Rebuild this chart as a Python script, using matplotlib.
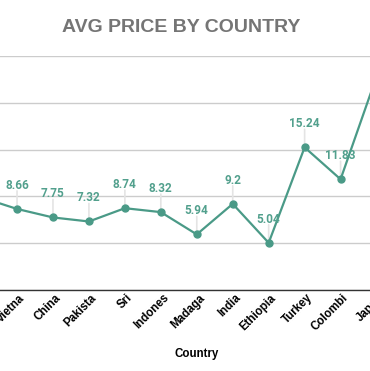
"""AVG PRICE BY COUNTRY - line chart (cropped view)."""
import matplotlib
matplotlib.use("Agg")
import matplotlib.pyplot as plt
from matplotlib.transforms import ScaledTranslation

countries = ["Kenya", "Vietna", "China", "Pakista", "Sri", "Indones", "Madaga",
             "India", "Ethiopia", "Turkey", "Colombi", "Japan"]
prices = [9.9, 8.66, 7.75, 7.32, 8.74, 8.32, 5.94, 9.2, 5.04, 15.24, 11.83, 22.8]
yticks = [0, 5, 10, 15, 20, 25]

LINE = "#4a9a87"
LABEL = "#52a08d"

W, H = 370, 371
fig = plt.figure(figsize=(W / 100, H / 100), dpi=100)
# axes intentionally wider than the figure (reference is a cropped view)
left_px, right_px = -36.9, 394.5
top_px, bot_px = 56, 290
ax = fig.add_axes([left_px / W, 1 - bot_px / H, (right_px - left_px) / W, (bot_px - top_px) / H])

x = list(range(len(countries)))
ax.plot(x, prices, color=LINE, lw=1.6, marker="o", ms=5, zorder=3)

# value labels with a faint stem, only for points inside the view
for i, v in enumerate(prices):
    if i == 0 or i == len(prices) - 1:
        continue
    ax.annotate("", xy=(i, v), xytext=(0, 13), textcoords="offset points",
                xycoords="data", arrowprops=dict(arrowstyle="-", color="#e4e4e4", lw=1.2,
                                                 shrinkA=0, shrinkB=2), zorder=1)
    ax.annotate(f"{v:g}", (i, v), xytext=(0, 17), textcoords="offset points",
                ha="center", va="center", fontsize=8.5, fontweight="bold",
                family="Roboto", color=LABEL, zorder=4)

ax.set_xlim(-0.5, len(countries) - 0.5)
ax.set_ylim(0, 25)
ax.set_yticks(yticks)
ax.yaxis.grid(True, color="#cccccc", lw=1)
ax.set_axisbelow(True)
ax.tick_params(axis="y", left=False, labelleft=False)
ax.tick_params(axis="x", length=0, pad=3)
for s in ["left", "right", "top"]:
    ax.spines[s].set_visible(False)
ax.spines["bottom"].set_color("#333333")
ax.spines["bottom"].set_linewidth(1)

ax.set_xticks(x)
ax.set_xticklabels(countries, rotation=45, ha="right", va="center",
                   rotation_mode="anchor", fontsize=8.3, fontweight="bold",
                   family="Liberation Sans")
shift = ScaledTranslation(6 / 100, -2 / 100, fig.dpi_scale_trans)
for lab in ax.get_xticklabels():
    lab.set_transform(lab.get_transform() + shift)

fig.text(197 / W, 1 - 354 / H, "Country", ha="center", va="center",
         fontsize=8.3, fontweight="bold", family="Liberation Sans")
fig.text(181 / W, 1 - 28 / H, "AVG PRICE BY COUNTRY", ha="center", va="center",
         fontsize=14, fontweight="bold", family="Liberation Sans", color="#757575")

fig.savefig("out.png", dpi=100)
